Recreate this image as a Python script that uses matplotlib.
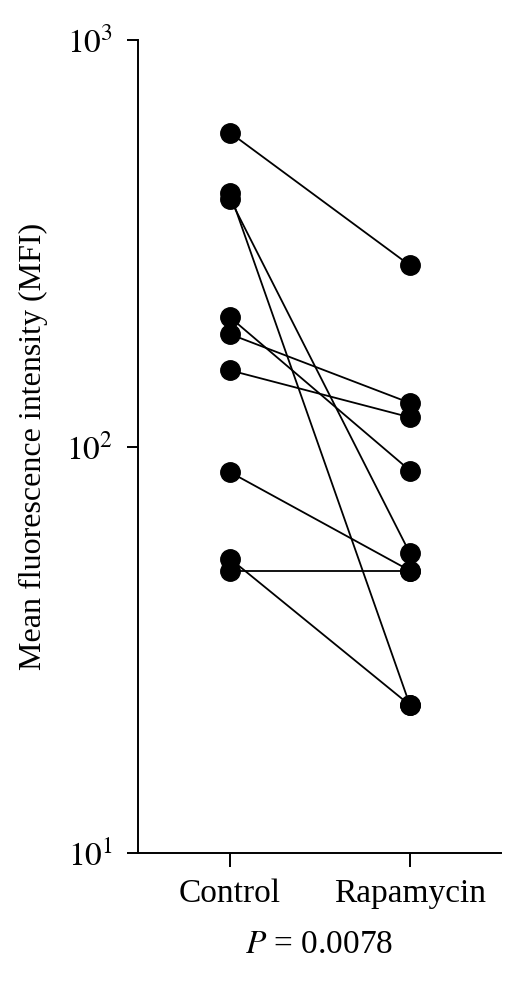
import matplotlib
matplotlib.use("Agg")
import matplotlib.pyplot as plt

# Paired MFI values, Control vs Rapamycin
groups = ["Control", "Rapamycin"]
control = [592, 420, 407, 208, 189, 154, 86.5, 53, 49.5]
rapamycin = [279, 23.1, 54.6, 87.3, 128, 118, 49.5, 23.1, 49.5]
p_text = r"$P$ = 0.0078"

plt.rcParams["font.family"] = "Liberation Serif"
plt.rcParams["mathtext.fontset"] = "stix"

fig = plt.figure(figsize=(5.22, 10.02), dpi=100)
ax = fig.add_axes([0.2644, 0.1487, 0.6954, 0.8113])

for c, r in zip(control, rapamycin):
    ax.plot([0, 1], [c, r], color="black", linewidth=1.3, zorder=2)
ax.plot([0] * len(control), control, "o", color="black", markersize=14, zorder=3)
ax.plot([1] * len(rapamycin), rapamycin, "o", color="black", markersize=14, zorder=3)

ax.set_yscale("log")
ax.set_ylim(10, 1000)
ax.set_xlim(-0.511, 1.506)
ax.set_yticks([10, 100, 1000])
ax.set_yticklabels([r"$10^1$", r"$10^2$", r"$10^3$"])
ax.minorticks_off()
ax.set_xticks([0, 1])
ax.set_xticklabels(groups)

for s in ["top", "right"]:
    ax.spines[s].set_visible(False)
for s in ["left", "bottom"]:
    ax.spines[s].set_linewidth(1.4)
ax.tick_params(axis="x", direction="out", length=10, width=1.4, labelsize=24, pad=8)
ax.tick_params(axis="y", direction="out", length=8, width=1.4, labelsize=24, pad=10)

ax.set_ylabel("Mean fluorescence intensity (MFI)", fontsize=23, labelpad=13)
ax.set_xlabel(p_text, fontsize=24, labelpad=15)

fig.savefig("out.png", dpi=100)
